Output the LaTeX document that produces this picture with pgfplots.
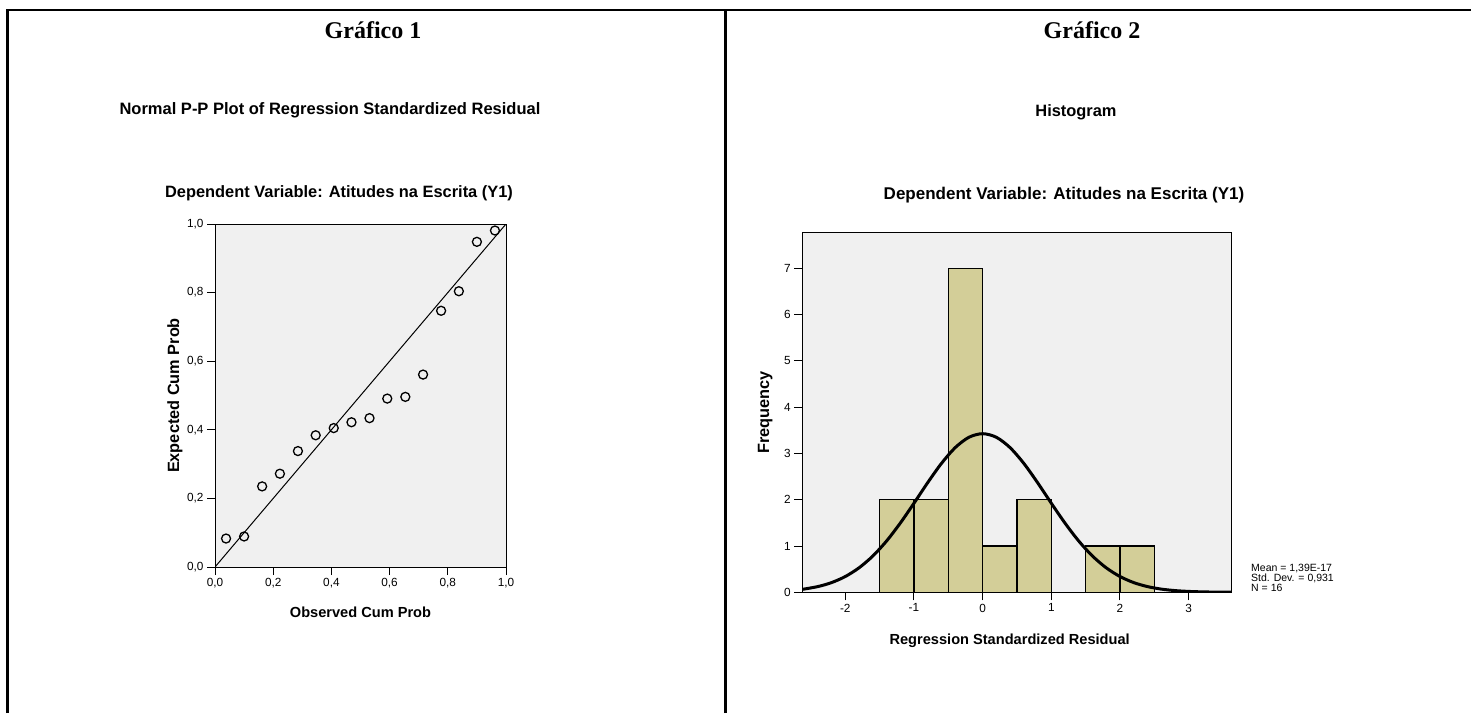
\documentclass[border=0pt]{standalone}
\usepackage{fontspec}
\setmainfont{Liberation Serif}
\setsansfont{Liberation Sans}
\usepackage{pgfplots}
\pgfplotsset{compat=1.18}
\definecolor{bg}{RGB}{240,240,240}
\definecolor{barfill}{RGB}{211,206,152}
\begin{document}
\begin{tikzpicture}[x=1pt,y=1pt]
\path[use as bounding box] (0pt,0pt) rectangle (1471pt,713pt);
\draw[line width=2.5pt] (7.5pt,0pt) -- (7.5pt,703pt) -- (1471pt,703pt);
\draw[line width=2.5pt] (725.7pt,0pt) -- (725.7pt,703pt);
\node[font=\fontsize{24}{24}\selectfont\bfseries] at (373pt,683pt) {Gráfico 1};
\node[font=\fontsize{24}{24}\selectfont\bfseries] at (1092pt,683pt) {Gráfico 2};
\node[font=\sffamily\bfseries\fontsize{16.5}{16.5}\selectfont] at (330pt,603pt) {Normal P-P Plot of Regression Standardized Residual};
\node[font=\sffamily\bfseries\fontsize{16.4}{16.4}\selectfont] at (339pt,520pt) {Dependent Variable: Atitudes na Escrita (Y1)};
\node[font=\sffamily\bfseries\fontsize{16.4}{16.4}\selectfont] at (1076pt,601pt) {Histogram};
\node[font=\sffamily\bfseries\fontsize{17}{17}\selectfont] at (1064pt,518pt) {Dependent Variable: Atitudes na Escrita (Y1)};

\begin{axis}[at={(215pt,146pt)}, anchor=south west, scale only axis,
  width=291pt, height=343pt, xmin=0, xmax=1, ymin=0, ymax=1,
  axis background/.style={fill=bg},
  axis line style={line width=1pt},
  xtick={0,0.2,0.4,0.6,0.8,1}, ytick={0,0.2,0.4,0.6,0.8,1},
  tick align=outside, tick pos=left, major tick length=8pt,
  every tick/.style={black, line width=1pt},
  /pgf/number format/.cd, use comma, fixed, fixed zerofill, precision=1, assume math mode=true, /pgfplots/.cd,
  tick label style={font=\sffamily\fontsize{11.8}{11.8}\selectfont},
  xlabel={Observed Cum Prob}, ylabel={Expected Cum Prob},
  xlabel style={font=\sffamily\bfseries\fontsize{14.6}{14.6}\selectfont, at={(axis description cs:0.5,0)}, anchor=center, yshift=-45pt},
  ylabel style={font=\sffamily\bfseries\fontsize{16.3}{16.3}\selectfont, at={(axis description cs:0,0.5)}, anchor=center, yshift=40pt},
]
\addplot[black, line width=1pt] coordinates {(0,0) (1,1)};
\addplot[only marks, mark=o, mark size=4.5pt, mark options={line width=1.3pt, black}] coordinates {
(0.038,0.083) (0.100,0.089) (0.162,0.235) (0.223,0.272) (0.285,0.338) (0.346,0.384)
(0.408,0.405) (0.469,0.422) (0.531,0.434) (0.592,0.491) (0.654,0.496) (0.715,0.561)
(0.777,0.747) (0.838,0.804) (0.900,0.948) (0.962,0.981)};
\end{axis}

\begin{axis}[at={(802.3pt,120.7pt)}, anchor=south west, scale only axis,
  width=428.7pt, height=360pt, xmin=-2.626, xmax=3.617, ymin=0, ymax=7.78,
  axis background/.style={fill=bg},
  axis line style={line width=1pt},
  xtick={-2,-1,0,1,2,3}, ytick={0,1,2,3,4,5,6,7},
  tick align=outside, tick pos=left, major tick length=8pt,
  every tick/.style={black, line width=1pt},
  /pgf/number format/assume math mode=true,
  tick label style={font=\sffamily\fontsize{11.8}{11.8}\selectfont},
  xlabel={Regression Standardized Residual}, ylabel={Frequency},
  xlabel style={font=\sffamily\bfseries\fontsize{14.6}{14.6}\selectfont, at={(axis description cs:0.5,0)}, anchor=center, yshift=-48pt, xshift=-7pt},
  ylabel style={font=\sffamily\bfseries\fontsize{16.3}{16.3}\selectfont, at={(axis description cs:0,0.5)}, anchor=center, yshift=37pt},
]
\addplot[ybar interval, fill=barfill, draw=black, line width=1.3pt] coordinates {
(-1.5,2) (-1,2) (-0.5,7) (0,1) (0.5,2) (1,0) (1.5,1) (2,1) (2.5,1)};
\addplot[black, line width=3pt, smooth] coordinates {
(-2.626,0.0637) (-2.4,0.1236) (-2.2,0.210) (-2.0,0.341) (-1.8,0.529) (-1.6,0.783) (-1.4,1.107)
(-1.2,1.494) (-1.0,1.925) (-0.8,2.370) (-0.6,2.785) (-0.4,3.126) (-0.2,3.350) (0,3.428)
(0.2,3.350) (0.4,3.126) (0.6,2.785) (0.8,2.370) (1.0,1.925) (1.2,1.494) (1.4,1.107)
(1.6,0.783) (1.8,0.529) (2.0,0.341) (2.2,0.210) (2.4,0.1236) (2.6,0.0694) (2.8,0.0372)
(3.0,0.0191) (3.2,0.0093) (3.4,0.0044) (3.617,0.0018)};
\end{axis}
\node[anchor=north west, align=left, inner sep=0pt, font=\sffamily\fontsize{10.5}{10}\selectfont] at (1251pt,149pt) {Mean = 1,39E-17\\Std. Dev. = 0,931\\N = 16};
\end{tikzpicture}
\end{document}
